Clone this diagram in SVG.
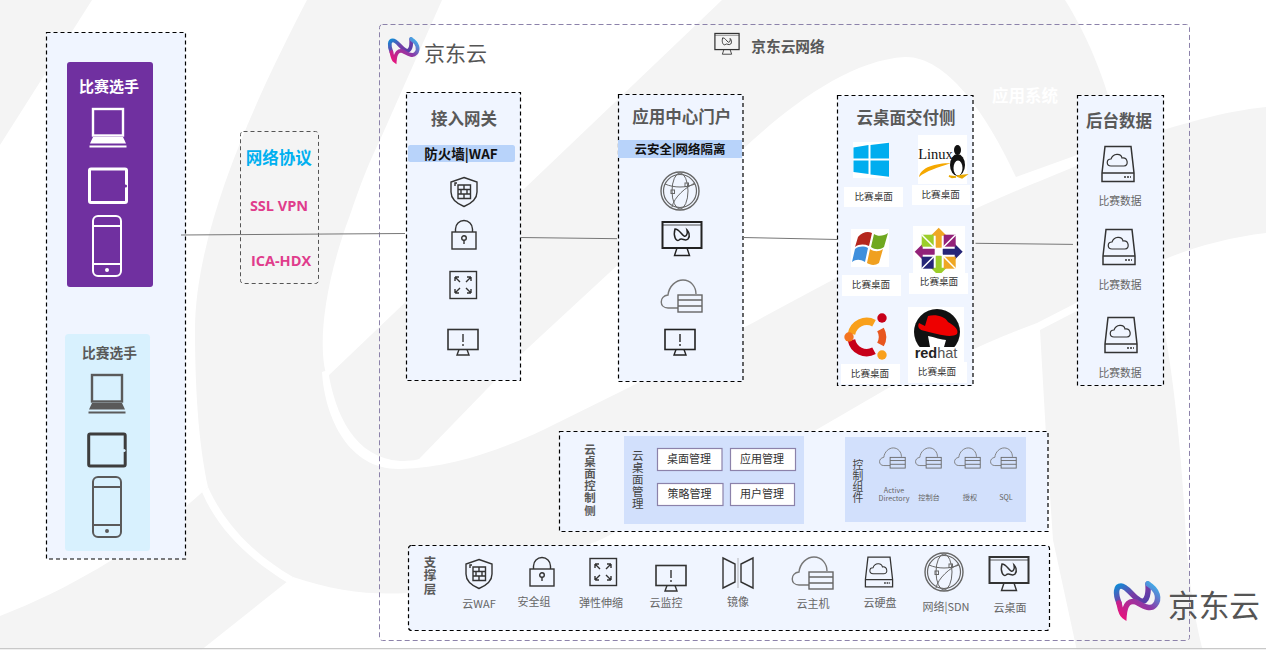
<svg xmlns="http://www.w3.org/2000/svg" xmlns:xlink="http://www.w3.org/1999/xlink" width="1266" height="651" viewBox="0 0 1266 651">
<style>
text{font-family:"Noto Sans CJK SC","Noto Sans",sans-serif;text-anchor:middle;dominant-baseline:central}
.vert{writing-mode:vertical-rl}
.box{fill:#f0f5ff;stroke:#000;stroke-width:1.2;stroke-dasharray:4 3}
.title{font-size:16.5px;font-weight:700;fill:#595959}
.lab{font-size:11px;fill:#666}
.desk{font-size:9.6px;fill:#333}
.data{font-size:10.8px;fill:#666}
.mg{font-size:11px;fill:#333}
.rect{fill:#fff;stroke:#8c82aa;stroke-width:1.2}
.tiny{font-size:7.2px;fill:#666}
.ico{fill:none;stroke:currentColor;stroke-width:1.4}
.conn{stroke:#777;stroke-width:1;fill:none}
</style>
<defs>
<linearGradient id="g1" x1="0" y1="0" x2="1" y2="1"><stop offset="0" stop-color="#0a8fd8"/><stop offset=".55" stop-color="#7a3aa5"/><stop offset="1" stop-color="#4a3fa8"/></linearGradient>
<linearGradient id="g2" x1="0" y1="1" x2="1" y2="0"><stop offset="0" stop-color="#e8137c"/><stop offset=".55" stop-color="#8a3aa8"/><stop offset="1" stop-color="#36bdf2"/></linearGradient>
<g id="mark" fill="none" stroke-width="5.5" stroke-linecap="round">
<path stroke="url(#g1)" d="M5,22 C1,12 2,5 7,5 C13,5 18,15 25,19 C31,23 35,17 34,3"/>
<path stroke="url(#g2)" d="M34,3 C44,9 46,18 41,24 C36,30 28,24 22,21 C16,19 11,22 10,35 C7,33 6,27 5,22"/>
</g>
<g id="laptop" class="ico" stroke-width="2"><rect x="-15" y="-19" width="30" height="26.500" stroke-width="2.400"/><path d="M-15,9 H15 L18,15.500 H-18 Z" fill="currentColor" stroke="none"/><path d="M-18.500,18.500 H18.500" stroke-width="2"/></g>
<g id="phone" class="ico" style="stroke-width:2"><rect x="-14" y="-30" width="28" height="60" rx="5"/><path d="M-14,-20 H14 M-14,18 H14"/><circle cx="0" cy="24" r="1" fill="currentColor"/></g>
<g id="shield" class="ico"><path d="M0,-14.500 L13,-10 V0 C13,8 6,12 0,14.500 C-6,12 -13,8 -13,0 V-10 Z"/><path d="M-6,-7 H6.500 V6.500 H-6 Z M-6,-2.500 H6.500 M-6,2 H6.500 M0,-7 V-2.500 M-3,-2.500 V2 M3,-2.500 V2 M0,2 V6.500 M-9,-6 V-9 H-7"/></g>
<g id="lock" class="ico"><rect x="-12" y="-3" width="24" height="17"/><path d="M-8.500,-3 V-6 A8.500,8.500 0 0 1 8.500,-6 V-3"/><circle cx="0" cy="3" r="2.300"/><path d="M0,5 V9"/></g>
<g id="expand" class="ico"><rect x="-13" y="-13.500" width="26.500" height="27"/><path d="M-8,-8 L-3,-3 M-8,-8 H-4 M-8,-8 V-4 M8,-8 L3,-3 M8,-8 H4 M8,-8 V-4 M-8,8 L-3,3 M-8,8 H-4 M-8,8 V4 M8,8 L3,3 M8,8 H4 M8,8 V4"/></g>
<g id="alert" class="ico"><rect x="-15" y="-12.500" width="30" height="20" stroke-width="1.600"/><path d="M0,-8 V0 M0,2 V4 M-4,7.500 L-6,13 H6 L4,7.500"/></g>
<g id="desktop" class="ico"><rect x="-19.500" y="-17" width="39" height="26" stroke-width="2"/><path d="M-19.500,-14 H19.500" stroke-width=".8"/><path d="M-5,9 L-7.500,16.500 H7.500 L5,9" stroke-width="1.400"/><path d="M-7,-10 C-9,-3 -6,3 -3,1 C0,-2 3,3 6,0 C9,-4 6,-8 5,-9 C6,-5 4,-2 2,-3 C-1,-5 -3,-10 -7,-10 Z" stroke-width="1.500"/></g>
<g id="cloud" class="ico"><path d="M-3,12 H-13 C-22,12 -22,0 -13,-1 C-12,-10 -5,-16 2,-16 C10,-16 15,-9 15,-2" stroke="#777"/><rect x="-3" y="-1" width="24" height="17" stroke="#666"/><path d="M-3,4 H21 M-3,10 H21" stroke="#666"/></g>
<g id="disk" class="ico"><path d="M-13,-17.500 H13 L16,9 V17.500 H-16 V9 Z M-16,9 H16" stroke-width="1.500"/><path d="M-7,2 C-12,2 -12,-5 -7,-5 C-5,-11 3,-11 4,-6 C10,-7 11,2 6,2 Z" stroke-width="1.200"/><path d="M6,13 H13" stroke-width="1.600" stroke-dasharray="2 1"/></g>
<g id="globe" class="ico" stroke="#666"><circle r="19" stroke="#666" stroke-width="1.400"/><circle r="16.500" stroke="#666" stroke-width="1.200"/><ellipse rx="8" ry="18" stroke="#666" stroke-width="1"/><path d="M-15,-7 C-6,-3 6,-3 15,-7 M-8,16 C-6,6 6,-4 15,-8" stroke="#666" stroke-width="1"/><rect x="-9" y="-1" width="3.500" height="3.500" stroke="#666" stroke-width="1"/><rect x="5" y="-8" width="3.500" height="3.500" stroke="#666" stroke-width="1"/></g>
<g id="mirror" class="ico"><path d="M-15,-15 L-3,-9 V9 L-15,15 Z M15,-15 L3,-9 V9 L15,15 Z"/><path d="M0,-15 V15" stroke-width=".7" stroke="#999"/></g>
</defs>

<g id="background">
<rect width="1266" height="651" fill="#f4f4f4"/>
<g fill="#fff">
<path d="M92,0 H307 C255,100 195,230 195,330 C195,400 200,450 208,487 C150,540 80,585 0,616 V145 Z"/>
<path d="M208,487 C225,525 255,555 293,577 L288,583 C250,560 218,530 202,492 Z"/>
<path d="M442,0 H722 L327,377 C318,350 322,290 350,215 C360,185 370,160 380,140 Z"/>
<path d="M322,372 L328,370 C335,415 355,458 400,461 C410,461 420,460 420,458 L515,360 L742,150 C790,105 850,60 905,57 C945,56 985,110 1016,177 L1077,155 L1120,140 L1122,147 L1040,181 C950,217 850,270 745,327 L628,388 L543,430 C500,450 450,468 400,469 C350,470 325,420 322,372 Z"/>
<path d="M200,651 L293,577 C340,593 380,596 420,592 C480,585 540,565 600,540 L816,430 L890,387 C940,365 990,340 1037,323 L1150,265 L1152,272 L1040,330 L1046,435 L1053,540 L1077,651 Z"/>
<path d="M1065,0 H1266 V107 C1220,112 1190,122 1120,143 C1110,90 1090,40 1065,0 Z"/>
<path d="M1163,260 C1190,248 1230,237 1266,233 V651 H1203 C1195,620 1190,590 1186,540 C1182,450 1170,330 1150,268 Z"/>
</g>
<rect x="0" y="648" width="1266" height="1.500" fill="#c8c8c8"/>
<rect x="0" y="649.500" width="1266" height="1.500" fill="#fff"/>
</g>

<g id="main-frame">
<rect x="379.500" y="24.500" width="810" height="616" rx="3" fill="none" stroke="#8c82aa" stroke-width="1" stroke-dasharray="5 3"/>
<use href="#desktop" transform="translate(727,44) scale(.62)" color="#333"/>
<text x="788" y="45" font-size="14.700" font-weight="700" fill="#595959">京东云网络</text>
<text x="1025" y="94.500" font-size="16.500" font-weight="700" fill="#fff">应用系统</text>
</g>

<g id="logo-small">
<use href="#mark" transform="translate(388,37) scale(.68)"/>
<text x="455.500" y="52" font-size="21" fill="#555">京东云</text>
</g>
<g id="logo-large">
<use href="#mark" transform="translate(1114,581)"/>
<text x="1214" y="603" font-size="30.700" fill="#555">京东云</text>
</g>

<g id="node-clients">
<rect class="box" x="46.500" y="32.500" width="139" height="526.500"/>
<g id="client-purple" color="#fff">
<rect x="67" y="62" width="86" height="225" rx="3" fill="#7030a0"/>
<text x="109" y="85" font-size="15" font-weight="700" fill="#fff">比赛选手</text>
<use href="#laptop" transform="translate(108,128)"/>
<rect x="89.500" y="169" width="37" height="33.500" rx="1.500" fill="none" stroke="#fff" stroke-width="3"/>
<circle cx="125.500" cy="186" r="1.600" fill="#7030a0"/>
<use href="#phone" transform="translate(107,246)"/>
</g>
<g id="client-blue" color="#5a5a5a">
<rect x="65" y="334" width="85" height="217" rx="3.500" fill="#d8f1fe"/>
<text x="109.500" y="352" font-size="13.700" font-weight="700" fill="#595959">比赛选手</text>
<use href="#laptop" transform="translate(107,394)"/>
<rect x="88.700" y="434" width="36.500" height="32" rx="1.500" fill="none" stroke="#3d3d3d" stroke-width="3"/>
<circle cx="124" cy="450.500" r="1.600" fill="#d8f1fe"/>
<use href="#phone" transform="translate(107,507)"/>
</g>
</g>

<g id="node-protocols">
<rect x="240.500" y="131.500" width="78" height="152" rx="3" fill="none" stroke="#555" stroke-width="1" stroke-dasharray="4 3"/>
<text x="278.700" y="157" font-size="16.500" font-weight="700" fill="#00b0f0">网络协议</text>
<text x="279" y="205.500" font-size="14.500" font-weight="700" fill="#e03c8c" style="font-family:'Open Sans',sans-serif">SSL VPN</text>
<text x="281" y="260.500" font-size="14.500" font-weight="700" fill="#e03c8c" style="font-family:'Open Sans',sans-serif">ICA-HDX</text>
</g>

<g id="node-gateway" color="#333">
<rect class="box" x="406.500" y="92.500" width="114" height="288"/>
<text class="title" x="464" y="118">接入网关</text>
<rect x="408" y="145" width="107" height="17" rx="2.500" fill="#b8d3fa"/>
<text x="461" y="152.500" font-size="13.500" font-weight="700" fill="#111">防火墙|WAF</text>
<use href="#shield" transform="translate(464,192)"/>
<use href="#lock" transform="translate(464,235)"/>
<use href="#expand" transform="translate(463,285)"/>
<use href="#alert" transform="translate(463,342)"/>
</g>

<g id="node-portal" color="#222">
<rect class="box" x="618.500" y="94.500" width="124.500" height="287"/>
<text class="title" x="681.700" y="116">应用中心门户</text>
<rect x="618" y="140" width="124" height="18" fill="#b8d3fa"/>
<text x="680" y="148.500" font-size="12.500" font-weight="700" fill="#111">云安全|网络隔离</text>
<use href="#globe" transform="translate(680,191)"/>
<use href="#desktop" transform="translate(682,239)"/>
<use href="#cloud" transform="translate(681,296)"/>
<use href="#alert" transform="translate(680,342)"/>
</g>

<g id="node-delivery">
<rect class="box" x="837.500" y="95.500" width="135.500" height="290"/>
<text class="title" x="906" y="117">云桌面交付侧</text>
<g id="os-windows">
<rect x="853" y="142" width="36" height="36" fill="#fff"/>
<path fill="#00adef" d="M853.500,147.500 L868.500,145 V158.500 H853.500 Z M870.500,145 L889,142.700 V158.500 H870.500 Z M853.500,160.500 H868.500 V174 L853.500,172 Z M870.500,160.500 H889 V176.700 L870.500,174.500 Z"/>
<rect x="844" y="187" width="59" height="20" fill="#fff"/>
<text class="desk" x="873.700" y="196">比赛桌面</text>
</g>
<g id="os-linux">
<rect x="918" y="135" width="49" height="49" fill="#fff"/>
<text x="935.500" y="153.500" font-size="14.500" fill="#111" style="font-family:'Liberation Serif',serif">Linux</text>
<path d="M919,177 C921,167 935,163.500 951,163 C938,167.500 926,171 919,177 Z" fill="#f5a800"/>
<ellipse cx="957.500" cy="165" rx="7.500" ry="11" fill="#111"/>
<ellipse cx="958" cy="168" rx="4.500" ry="7.500" fill="#fff"/>
<ellipse cx="957.500" cy="150" rx="3.500" ry="5" fill="#111"/>
<path d="M949,176 L956,177 L952,177.500 Z M957,176 L966,175 L962,178 Z" fill="#e8a800" stroke="#e8a800" stroke-width="1.500"/>
<rect x="912" y="185" width="58" height="20" fill="#fff"/>
<text class="desk" x="940.700" y="194">比赛桌面</text>
</g>
<g id="os-xp">
<rect x="851" y="229" width="38" height="38" fill="#fff"/>
<path fill="#b5271d" d="M858,237 C862,232 868,231 872,233 L869,246 C864,244 859,244 855,247 Z"/>
<path fill="#6fa81f" d="M874,234 C878,237 884,236 888,233 L884,247 C880,250 875,250 871,247 Z"/>
<path fill="#3f8fdc" d="M855,249 C859,246 864,246 868,248 L865,262 C860,259 856,259 852,262 Z"/>
<path fill="#f0a020" d="M870,249 C874,252 879,252 883,249 L879,263 C875,266 870,265 867,263 Z"/>
<rect x="842" y="275" width="59" height="21" fill="#fff"/>
<text class="desk" x="871" y="284">比赛桌面</text>
</g>
<g id="os-centos">
<rect x="913" y="226" width="52" height="51" fill="#fff"/>
<g transform="translate(938.700,251.700)">
<path fill="#efa724" d="M0,-24 L8,-16 H3 V-4 H-3 V-16 H-8 Z"/>
<path fill="#262577" d="M24,0 L16,8 V3 H4 V-3 H16 V-8 Z"/>
<path fill="#9ccd2a" d="M0,24 L-8,16 H-3 V4 H3 V16 H8 Z"/>
<path fill="#932279" d="M-24,0 L-16,-8 V-3 H-4 V3 H-16 V8 Z"/>
<path fill="#9ccd2a" d="M-17,-17 H-5 V-5 H-17 Z"/>
<path fill="#932279" d="M5,-17 H17 V-5 H5 Z"/>
<path fill="#262577" d="M-17,5 H-5 V17 H-17 Z"/>
<path fill="#efa724" d="M5,5 H17 V17 H5 Z"/>
<path d="M-17,-17 L17,17 M17,-17 L-17,17" stroke="#fff" stroke-width="1.500"/>
</g>
<rect x="909" y="273" width="59" height="21" fill="#fff"/>
<text class="desk" x="939" y="281">比赛桌面</text>
</g>
<g id="os-ubuntu">
<g fill="none" stroke-width="7.500">
<path stroke="#f9a01b" d="M851.500,334 A15.500,15.500 0 0 1 874,323.200"/>
<path stroke="#e8561f" d="M880.500,329.500 A15.500,15.500 0 0 1 880.500,344.500"/>
<path stroke="#c70019" d="M874,350.800 A15.500,15.500 0 0 1 851.500,340"/>
</g>
<circle cx="882" cy="318" r="4.700" fill="#c70019"/>
<circle cx="849" cy="337" r="4.700" fill="#f47421"/>
<circle cx="882" cy="355" r="4.700" fill="#f9a01b"/>
<rect x="841" y="364" width="59" height="20" fill="#fff"/>
<text class="desk" x="870" y="373">比赛桌面</text>
</g>
<g id="os-redhat">
<rect x="908" y="307" width="56" height="56" fill="#fff"/>
<circle cx="937" cy="332" r="23" fill="#111"/>
<rect x="908" y="347" width="56" height="16" fill="#fff"/>
<path fill="#e00" d="M928,316 C935,314 945,316 948,322 C955,326 959,330 957,334 C950,339 935,333 925,331 C919,330 917,327 919,323 L925,326 Z"/>
<path fill="#fff" d="M928,336 C934,337 942,340 946,340 L944,347 H930 Z"/>
<text x="936" y="353" font-size="14.500" font-weight="700" fill="#222" style="font-family:'Liberation Sans',sans-serif">red<tspan font-weight="400" fill="#555">hat</tspan></text>
<rect x="908" y="362" width="59" height="21" fill="#fff"/>
<text class="desk" x="937" y="371">比赛桌面</text>
</g>
</g>

<g id="node-backend" color="#333">
<rect class="box" x="1077.500" y="95.500" width="86" height="290"/>
<text class="title" x="1119" y="119.500">后台数据</text>
<use href="#disk" transform="translate(1118,164)"/>
<text class="data" x="1120" y="200">比赛数据</text>
<use href="#disk" transform="translate(1119,247)"/>
<text class="data" x="1120" y="284">比赛数据</text>
<use href="#disk" transform="translate(1121,335)"/>
<text class="data" x="1120" y="372">比赛数据</text>
</g>

<g id="node-control" color="#666">
<rect class="box" x="559.500" y="431.500" width="488.500" height="100"/>
<text class="vert" x="590" y="480" font-size="11.500" font-weight="700" fill="#595959" letter-spacing=".7">云桌面控制侧</text>
<rect x="624" y="436" width="180" height="88" fill="#d2e0fc"/>
<text class="vert" x="637.700" y="480" font-size="11.500" fill="#444" letter-spacing=".5">云桌面管理</text>
<rect class="rect" x="657.500" y="448.500" width="64.500" height="22"/><text class="mg" x="689" y="457.500">桌面管理</text>
<rect class="rect" x="730.500" y="448.500" width="65" height="22"/><text class="mg" x="762" y="457.500">应用管理</text>
<rect class="rect" x="657.500" y="483.500" width="65.500" height="22"/><text class="mg" x="689.500" y="492.500">策略管理</text>
<rect class="rect" x="730.500" y="483.500" width="64" height="22"/><text class="mg" x="762" y="492.500">用户管理</text>
<rect x="845" y="437" width="181" height="85" fill="#d2e0fc"/>
<text class="vert" x="858" y="481" font-size="10.800" fill="#444" letter-spacing=".2">控制组件</text>
<use href="#cloud" transform="translate(892,458) scale(.63)"/>
<use href="#cloud" transform="translate(928,458) scale(.63)"/>
<use href="#cloud" transform="translate(967,458) scale(.63)"/>
<use href="#cloud" transform="translate(1003,458) scale(.63)"/>
<text class="tiny" x="894" y="490">Active</text>
<text class="tiny" x="894" y="498">Directory</text>
<text class="tiny" x="929" y="496.500">控制台</text>
<text class="tiny" x="970" y="496.500">授权</text>
<text class="tiny" x="1006" y="496.500">SQL</text>
</g>

<g id="node-support" color="#333">
<rect class="box" x="408.500" y="545.500" width="641" height="85" rx="3"/>
<text class="vert" x="430" y="576" font-size="12.500" font-weight="700" fill="#595959" letter-spacing="1">支撑层</text>
<use href="#shield" transform="translate(479,574)"/><text class="lab" x="479" y="603">云WAF</text>
<use href="#lock" transform="translate(542,572)"/><text class="lab" x="534" y="601">安全组</text>
<use href="#expand" transform="translate(603,572)"/><text class="lab" x="601" y="602">弹性伸缩</text>
<use href="#alert" transform="translate(671,578)"/><text class="lab" x="666" y="602">云监控</text>
<use href="#mirror" transform="translate(738,573)"/><text class="lab" x="738" y="601">镜像</text>
<use href="#cloud" transform="translate(812,573)"/><text class="lab" x="813" y="603">云主机</text>
<use href="#disk" transform="translate(879,572) scale(.85)"/><text class="lab" x="880" y="602">云硬盘</text>
<use href="#globe" transform="translate(944,572)"/><text class="lab" x="946" y="606">网络|SDN</text>
<use href="#desktop" transform="translate(1009,574)"/><text class="lab" x="1010" y="607">云桌面</text>
</g>

<g id="connectors">
<path class="conn" d="M181,235 L405,233.500"/>
<path class="conn" d="M520,237.500 L617,238.700"/>
<path class="conn" d="M743,237.500 L838,239.500"/>
<path class="conn" d="M975.500,243.300 L1073,244.400"/>
</g>
</svg>
